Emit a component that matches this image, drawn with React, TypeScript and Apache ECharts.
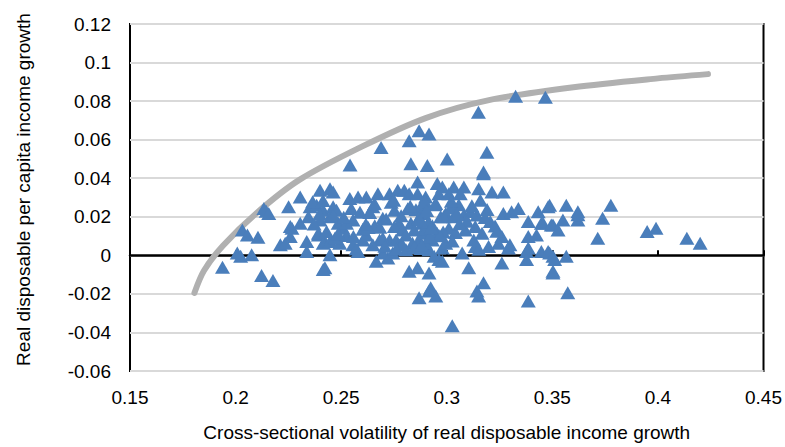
import React, { useEffect, useRef } from "react";
import * as echarts from "echarts";

const xTicks = { min: 0.15, max: 0.45, interval: 0.05 };
const yTicks = { min: -0.06, max: 0.12, interval: 0.02 };

const xTitle = "Cross-sectional volatility of real disposable income growth";
const yTitle = "Real disposable per capita income growth";

// Frontier curve (x, y)
const frontierX = [0.1805, 0.185, 0.194, 0.21, 0.23, 0.26, 0.29, 0.32, 0.36, 0.4, 0.4237];
const frontierY = [-0.0195, -0.008, 0.005, 0.022, 0.039, 0.0565, 0.0712, 0.0805, 0.0872, 0.0918, 0.094];

// Scatter observations (x: volatility, y: growth)
const obsX = [
  0.2032, 0.2056, 0.2106, 0.2008, 0.2024, 0.2076, 0.1938, 0.2123, 0.2177, 0.2145, 0.2134, 0.2157, 0.2251, 0.2306,
  0.2212, 0.2235, 0.2267, 0.2337, 0.2423, 0.2423, 0.2392, 0.24, 0.2447, 0.2353, 0.2384, 0.2415, 0.2462, 0.2345,
  0.24, 0.2447, 0.2259, 0.2306, 0.2259, 0.2337, 0.2392, 0.2415, 0.2447, 0.2447, 0.2415,
  0.2462, 0.2478, 0.2486, 0.2509, 0.2525, 0.2556, 0.2548, 0.2541, 0.258, 0.2619, 0.265, 0.2674, 0.2697, 0.2729,
  0.2752, 0.2768, 0.2799, 0.2822, 0.2862, 0.2862, 0.2877, 0.29, 0.2955, 0.2963, 0.2971, 0.2995, 0.2493, 0.2556,
  0.2603, 0.2619, 0.265, 0.2666, 0.2721, 0.2729, 0.276, 0.2775, 0.2807, 0.283, 0.2869, 0.2885, 0.2916, 0.2932,
  0.294, 0.2963, 0.2979, 0.2822, 0.2862, 0.2916, 0.2924, 0.2752, 0.2791, 0.2846, 0.2892, 0.2885, 0.29, 0.2838,
  0.2682, 0.258, 0.2697, 0.2744, 0.2807, 0.247, 0.2462,
  0.3174, 0.2979, 0.3033, 0.3081, 0.301, 0.3064, 0.3151, 0.3214, 0.3268, 0.3159, 0.2986, 0.3033, 0.3081, 0.3143,
  0.3268, 0.3307, 0.3339, 0.3433, 0.348, 0.3386, 0.3448, 0.3503, 0.301, 0.3088, 0.3135, 0.3167, 0.3261, 0.3386,
  0.3425, 0.2995, 0.3073, 0.3135, 0.3198, 0.3245, 0.3292, 0.3378, 0.3448, 0.3487, 0.2979, 0.3378, 0.3261, 0.3104,
  0.3503, 0.3174, 0.3143,
  0.2689, 0.2822, 0.2869, 0.2916, 0.283, 0.2908, 0.3002, 0.319, 0.3174, 0.315, 0.2542, 0.3326, 0.3467,
  0.2869, 0.2916, 0.2948, 0.3151, 0.3386, 0.3026,
  0.3487, 0.3566, 0.3621, 0.3621, 0.3456, 0.3495, 0.355, 0.3527, 0.3738, 0.3777, 0.3715, 0.348, 0.3503, 0.3566,
  0.3511, 0.3503, 0.3573, 0.3949, 0.3991, 0.4137, 0.42, 0.3386, 0.3299, 0.3621,
  0.2525, 0.2603, 0.2635, 0.2713, 0.2776, 0.2854, 0.2932, 0.3041, 0.3112, 0.3206, 0.2658, 0.2737, 0.2815, 0.2893,
  0.3057, 0.3182, 0.2571, 0.2659, 0.2846, 0.2955, 0.3026, 0.3096, 0.3229, 0.2697, 0.2784, 0.2869, 0.2948, 0.3018,
  0.2365, 0.2398, 0.2431, 0.2372, 0.2414, 0.2485, 0.2512, 0.2589, 0.2628, 0.2707, 0.2749, 0.2788, 0.2827, 0.2866,
  0.2905, 0.2944, 0.2983, 0.3022, 0.3061, 0.3119, 0.3152, 0.3191, 0.3237, 0.2558, 0.2617, 0.2683, 0.2761, 0.2879,
  0.2913, 0.2967, 0.3049, 0.3128, 0.2873, 0.2897, 0.2919, 0.2881, 0.2905, 0.2926,
];
const obsY = [
  0.0132, 0.0106, 0.0094, 0.0012, -0.0005, 0.0003, -0.0062, -0.0105, -0.0131, 0.0229, 0.0243, 0.0217, 0.0252, 0.0303,
  0.0055, 0.0063, 0.014, 0.002, -0.0065, 0.0072, 0.0106, 0.0337, 0.0346, 0.0252, 0.026, 0.0234, 0.0252, 0.02,
  0.0183, 0.02, 0.0149, 0.0166, 0.0098, 0.0072, 0.0115, 0.0063, 0.0072, 0.0003, -0.0074,
  0.0329, 0.0234, 0.0166, 0.014, 0.0166, 0.0183, 0.0243, 0.0295, 0.0303, 0.0303, 0.0252, 0.032, 0.0192, 0.032,
  0.0234, 0.0337, 0.0337, 0.032, 0.038, 0.032, 0.0252, 0.0303, 0.0372, 0.032, 0.02, 0.0217, 0.0063, 0.0055,
  0.008, 0.0106, 0.0055, -0.0031, -0.0014, 0.008, 0.008, 0.0166, 0.0029, 0.0166, 0.008, 0.0115, 0.0029, 0.008,
  -0.0005, -0.0022, 0.0038, -0.0082, -0.0065, -0.0091, -0.0168, 0.0149, 0.0132, 0.0132, 0.0217, 0.0166, 0.0063, 0.0063,
  0.008, 0.002, 0.0012, 0.0012, 0.0106, 0.0089, 0.0208,
  0.0423, 0.0355, 0.0355, 0.0355, 0.032, 0.032, 0.0346, 0.0329, 0.0329, 0.0286, 0.02, 0.02, 0.0209, 0.0209,
  0.0217, 0.0226, 0.0243, 0.0226, 0.0252, 0.0175, 0.0166, 0.0157, 0.014, 0.0132, 0.0149, 0.0115, 0.0098, 0.0098,
  0.0106, 0.0063, 0.0012, 0.0046, 0.0046, 0.0063, 0.0038, 0.002, 0.002, 0.0012, -0.0031, -0.0022, -0.004, -0.0065,
  -0.0082, -0.0142, -0.0185,
  0.056, 0.0594, 0.0646, 0.0629, 0.0475, 0.0466, 0.05, 0.0535, 0.0432, 0.0742, 0.0469, 0.0825, 0.082,
  -0.022, -0.0185, -0.0211, -0.0211, -0.0237, -0.0365,
  0.026, 0.026, 0.0226, 0.0183, 0.0166, 0.0157, 0.0183, 0.0132, 0.0192, 0.026, 0.0089, 0.002, -0.0005, -0.0005,
  -0.0022, -0.0091, -0.0194, 0.0123, 0.014, 0.0089, 0.0063, 0.0038, 0.0055, 0.0211,
  0.0103, 0.0135, 0.0222, 0.0188, 0.0054, 0.0237, 0.0154, 0.0118, 0.0228, 0.0176, 0.0268, 0.0276, 0.0242, 0.0138,
  0.0262, 0.0196, 0.0033, 0.0154, 0.0041, 0.0113, 0.0075, 0.0177, 0.0152, 0.0089, 0.0205, 0.0195, 0.0269, 0.0245,
  0.0278, 0.0215, 0.0124, 0.0162, 0.0285, 0.0112, 0.0198, 0.0223, 0.0145, 0.0047, 0.0286, 0.0059, 0.0254, 0.0189,
  0.0142, 0.0263, 0.0121, 0.0281, 0.0164, 0.0257, 0.0031, 0.0238, 0.0125, 0.0098, 0.0161, 0.0146, 0.0031, 0.0035,
  0.0172, 0.0102, 0.0215, 0.0079, 0.0183, 0.0279, 0.0097, 0.0052, 0.0233, 0.0143,
];

const fmt = (v: number) => String(Number(v.toFixed(3)));
const FONT = "'Liberation Sans', Arial, sans-serif";

export default function App() {
  const ref = useRef<HTMLDivElement>(null);
  useEffect(() => {
    if (!ref.current) return;
    const chart = echarts.init(ref.current, undefined, { renderer: "svg" });
    const frontier = frontierX.map((x, i) => [x, frontierY[i]]);
    const obs = obsX.map((x, i) => [x, obsY[i]]);
    chart.setOption({
      animation: false,
      backgroundColor: "#ffffff",
      textStyle: { fontFamily: FONT },
      grid: {
        left: 130,
        right: 16,
        top: 24,
        bottom: 73,
        show: true,
        borderColor: "#000000",
        borderWidth: 2,
        backgroundColor: "transparent",
      },
      xAxis: [
        {
          type: "value",
          ...xTicks,
          axisLine: { show: false, onZero: false },
          axisTick: { show: false },
          splitLine: { show: false },
          axisLabel: { color: "#000", fontSize: 19, fontFamily: FONT, margin: 17, formatter: fmt },
          name: xTitle,
          nameLocation: "middle",
          nameGap: 52,
          nameTextStyle: { color: "#000", fontSize: 19, fontFamily: FONT },
        },
        {
          type: "value",
          ...xTicks,
          position: "bottom",
          axisLine: { show: true, onZero: true, lineStyle: { color: "#000", width: 2.5 } },
          axisTick: { show: true, inside: true, length: 5, lineStyle: { color: "#000", width: 2 } },
          axisLabel: { show: false },
          splitLine: { show: false },
        },
      ],
      yAxis: {
        type: "value",
        ...yTicks,
        axisLine: { show: false },
        axisTick: { show: false },
        splitLine: { show: true, lineStyle: { color: "#d9d9d9", width: 2 } },
        axisLabel: { color: "#000", fontSize: 19, fontFamily: FONT, margin: 19, formatter: fmt },
        name: yTitle,
        nameLocation: "middle",
        nameGap: 97,
        nameTextStyle: { color: "#000", fontSize: 19, fontFamily: FONT, padding: [0, 0, 0, 16] },
      },
      series: [
        {
          type: "line",
          data: frontier,
          smooth: 0.3,
          showSymbol: false,
          symbol: "none",
          lineStyle: { color: "#b0b0b0", width: 6, cap: "round" },
          z: 2,
        },
        {
          type: "scatter",
          data: obs,
          symbol: "triangle",
          symbolSize: [15, 13],
          itemStyle: { color: "#4a7ebb", opacity: 1 },
          z: 3,
        },
      ],
    });
    return () => chart.dispose();
  }, []);
  return <div ref={ref} style={{ width: 785, height: 447, position: "absolute", left: 0, top: 0 }} />;
}
